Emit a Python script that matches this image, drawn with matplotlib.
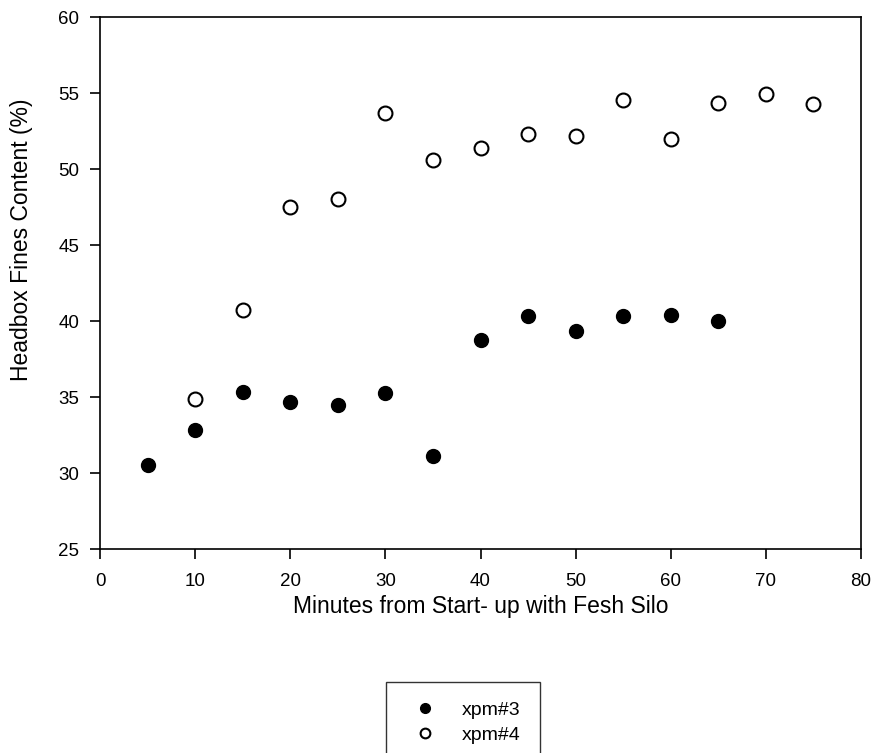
import matplotlib
matplotlib.use("Agg")
import matplotlib.pyplot as plt

plt.rcParams['font.family'] = ['Liberation Sans', 'DejaVu Sans']

x3 = [5, 10, 15, 20, 25, 30, 35, 40, 45, 50, 55, 60, 65]
y3 = [30.5, 32.8, 35.3, 34.7, 34.45, 35.25, 31.15, 38.75, 40.35, 39.35, 40.3, 40.4, 40.0]

x4 = [10, 15, 20, 25, 30, 35, 40, 45, 50, 55, 60, 65, 70, 75]
y4 = [34.9, 40.7, 47.5, 48.0, 53.7, 50.6, 51.4, 52.3, 52.15, 54.55, 51.95, 54.35, 54.95, 54.3]

xticks = [0, 10, 20, 30, 40, 50, 60, 70, 80]
yticks = [25, 30, 35, 40, 45, 50, 55, 60]

fig = plt.figure(figsize=(8.75, 7.53), dpi=100)
ax = fig.add_axes([100/875, 1-549/753, (861-100)/875, (549-17)/753])

ax.plot(x3, y3, linestyle='none', marker='o', markersize=10,
        markerfacecolor='black', markeredgecolor='black', label='xpm#3')
ax.plot(x4, y4, linestyle='none', marker='o', markersize=10,
        markerfacecolor='white', markeredgecolor='black', markeredgewidth=1.5,
        label='xpm#4')

ax.set_xlim(0, 80)
ax.set_ylim(25, 60)
ax.set_xticks(xticks)
ax.set_yticks(yticks)
ax.tick_params(direction='out', length=7, width=1.2, labelsize=13.5,
               top=False, right=False)
ax.tick_params(axis='x', pad=10)
ax.tick_params(axis='y', pad=8)
for s in ax.spines.values():
    s.set_linewidth(1.2)

ax.set_xlabel('Minutes from Start- up with Fesh Silo', fontsize=16.5)
ax.set_ylabel('Headbox Fines Content (%)', fontsize=16.5)
ax.xaxis.set_label_coords(0.5, (549-607)/532, transform=ax.transAxes)
ax.xaxis.label.set_va('center')
ax.yaxis.set_label_coords((22-100)/761, (549-240)/532, transform=ax.transAxes)
ax.yaxis.label.set_va('center')

leg = fig.legend(loc='upper center', bbox_to_anchor=(463/875, 1-672/753),
                 frameon=True, fancybox=False, edgecolor='black',
                 fontsize=14, borderpad=1.0, handlelength=2.0,
                 handletextpad=0.87, labelspacing=0.4, markerscale=0.7)
leg.get_frame().set_linewidth(1.0)

fig.savefig('out.png', dpi=100)
